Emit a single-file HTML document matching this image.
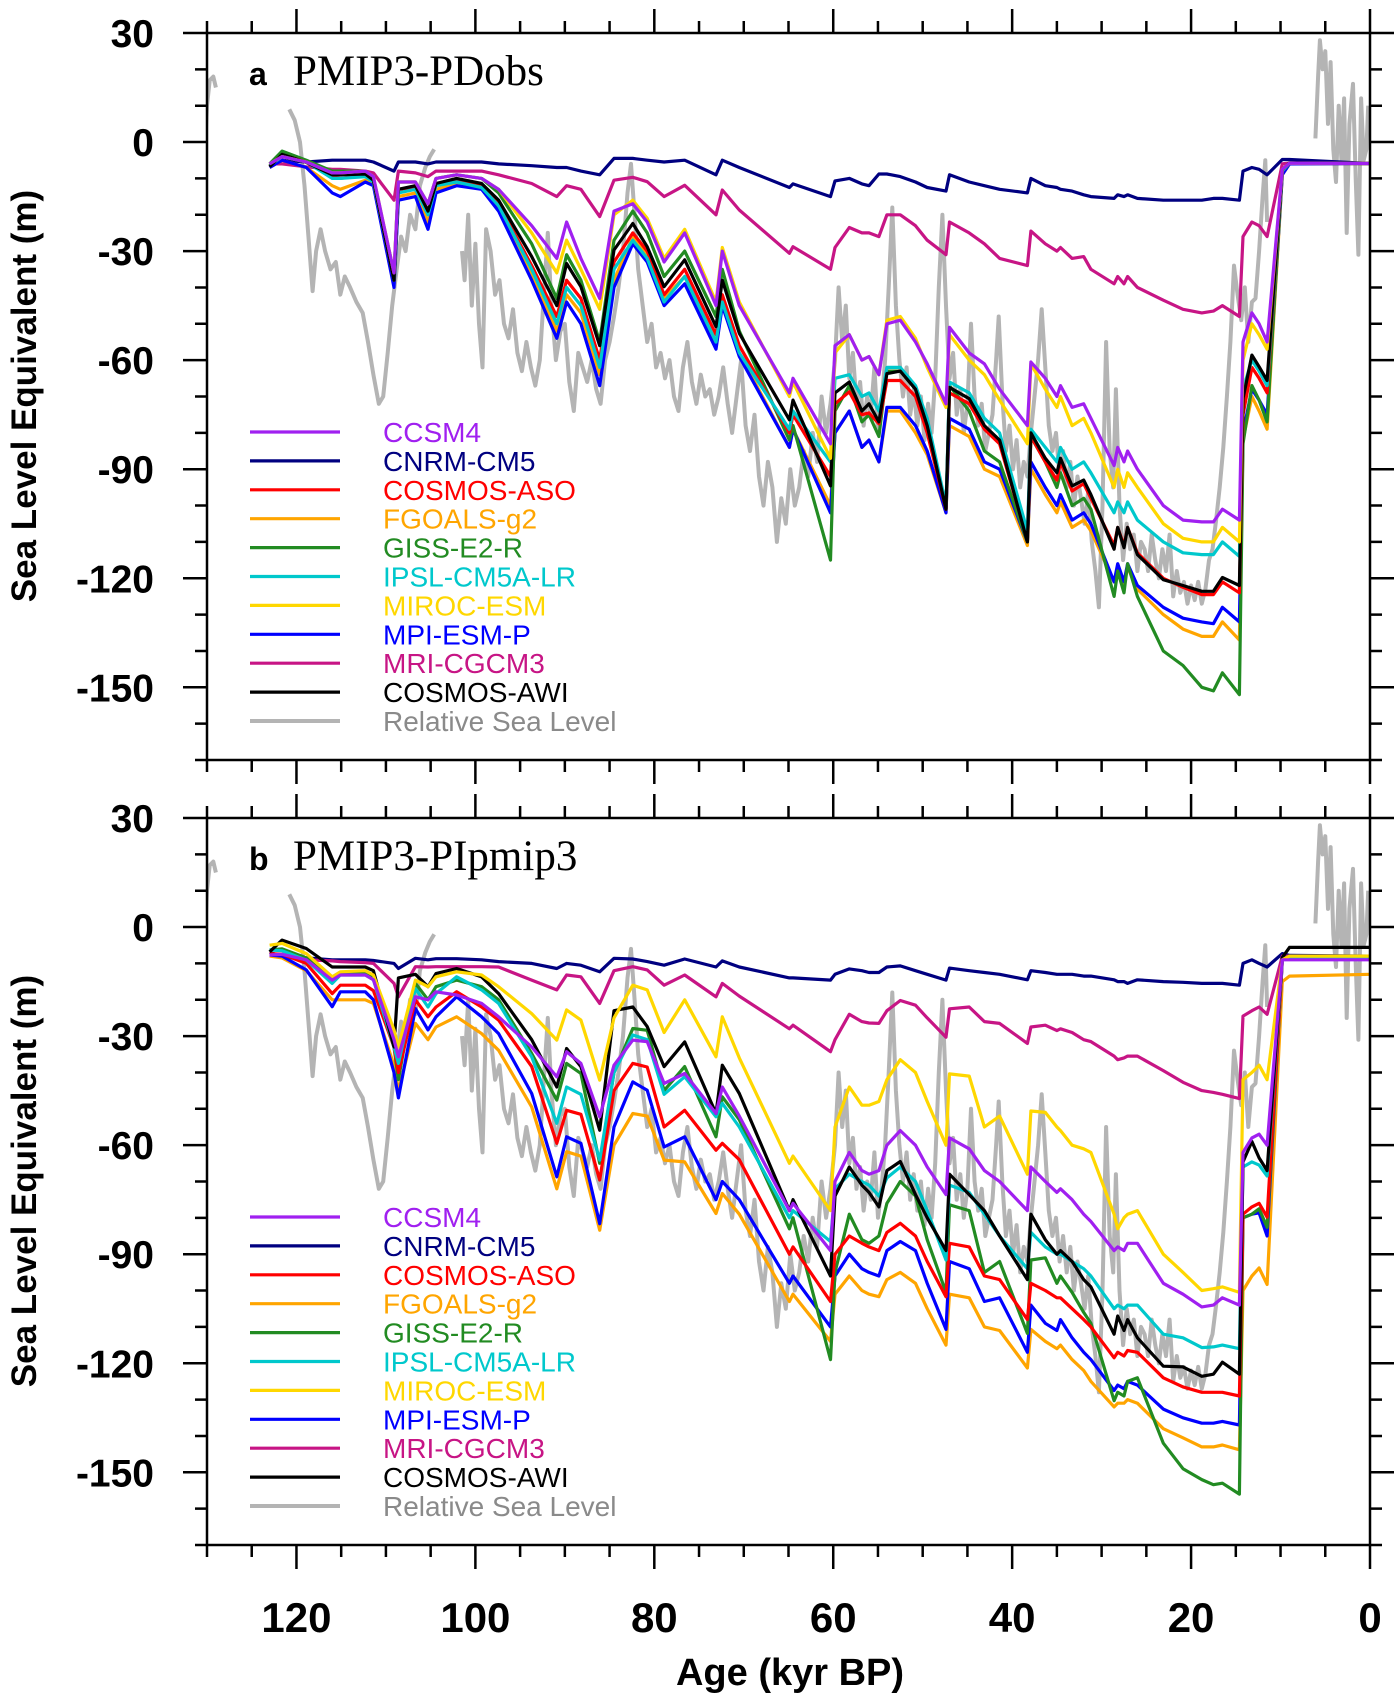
<!DOCTYPE html>
<html><head><meta charset="utf-8">
<style>
html,body{margin:0;padding:0;background:#fff;}
svg{display:block;}
</style></head>
<body>
<svg id="chart" width="1400" height="1699" viewBox="0 0 1400 1699" xmlns="http://www.w3.org/2000/svg">
  <defs>
    <clipPath id="clipA"><rect x="207" y="33" width="1163" height="727"/></clipPath>
    <clipPath id="clipB"><rect x="207" y="818" width="1163" height="727"/></clipPath>
  </defs>
  <g id="panelA"></g>
  <g id="panelB"></g>
  <text x="249" y="85" font-family="Liberation Sans, sans-serif" font-weight="bold" font-size="32">a</text>
  <text x="293" y="85" font-family="Liberation Serif, serif" font-size="43">PMIP3-PDobs</text>
  <text x="249" y="870" font-family="Liberation Sans, sans-serif" font-weight="bold" font-size="32">b</text>
  <text x="293" y="870" font-family="Liberation Serif, serif" font-size="43">PMIP3-PIpmip3</text>
  <text transform="translate(36,396) rotate(-90)" text-anchor="middle" font-family="Liberation Sans, sans-serif" font-weight="bold" font-size="35">Sea Level Equivalent (m)</text>
  <text transform="translate(36,1181) rotate(-90)" text-anchor="middle" font-family="Liberation Sans, sans-serif" font-weight="bold" font-size="35">Sea Level Equivalent (m)</text>
  <text x="790" y="1685" text-anchor="middle" font-family="Liberation Sans, sans-serif" font-weight="bold" font-size="38">Age (kyr BP)</text>
</svg>
<script>
// ---- data ----
const ages = [123,121.6,118.9,116,115.1,112.3,111.4,109.1,108.6,106.7,105.3,104.4,102.1,99.3,97.4,93.7,90.9,89.8,88.2,86.1,84.5,82.4,80.8,78.9,76.6,73.1,72.4,70.5,64.9,64.5,
 60.3,59.8,58.2,56.8,56,54.9,54,52.5,50.8,49.5,47.4,47,44.8,43.1,41.4,38.3,37.9,36.3,35,34.6,33.3,32,31.2,28.6,28.2,27.5,27.1,26,23.1,20.9,18.8,17.5,16.5,14.6,14.2,13.2,12.4,11.5,9.8,9,0];

const seriesNames = ["CCSM4","CNRM-CM5","COSMOS-ASO","FGOALS-g2","GISS-E2-R","IPSL-CM5A-LR","MIROC-ESM","MPI-ESM-P","MRI-CGCM3","COSMOS-AWI","Relative Sea Level"];

// Panel a values
const aCCSM4 = [-6,-4,-5.5,-8.5,-8.5,-8,-9.5,-36,-11,-11,-17,-10,-9,-10,-13,-23,-32,-22,-32,-43,-19,-17,-22,-33,-25,-45,-30,-45,-69,-65,
 -83,-56,-53,-60,-59,-64,-50,-49,-55,-61,-72,-51,-58,-61,-68,-78,-60.5,-65,-70,-67,-73,-72,-76,-89,-84,-88,-85,-90,-100,-104,-104.5,-104.5,-101,-104,-55,-47,-50,-55,-7.5,-5.8,-5.9];
const aCNRM = [-6,-5,-5.5,-5,-5,-5,-5.5,-8,-5.5,-5.5,-6,-5.5,-5.5,-5.5,-6,-6.5,-7,-7,-8,-9,-4.5,-4.5,-5,-5.5,-5,-9,-5,-7,-12.5,-11.5,
 -15,-10.7,-10,-11.5,-12,-8.8,-8.8,-9.5,-11,-12.5,-13.5,-9,-11,-12,-13,-14,-10,-12,-12.5,-13,-13.5,-14.5,-15,-15.5,-14.5,-15,-14.5,-15.5,-16,-16,-16,-15.5,-15.5,-16,-8,-7,-7.5,-9,-4.8,-4.8,-5.9];
const aASO = [-6.5,-3.5,-5.5,-9.5,-10,-9,-11,-38,-13,-12.5,-19,-11.5,-10.5,-12,-17,-34,-48,-38,-43,-60,-33,-25,-30,-42,-35,-53,-42,-56,-80,-75,
 -92,-72,-68.7,-75,-74.5,-77.5,-65.6,-65.6,-70,-80,-101,-69,-72,-79,-83,-109.6,-81,-88,-93,-88,-96,-94,-98,-111,-106,-111,-106,-113,-120,-122.5,-124.5,-124.5,-121,-124,-75,-62,-65,-69,-8,-5.8,-5.9];
const aFGOALS = [-7,-5,-7,-12,-13,-10.5,-11.5,-39,-15,-14,-22,-13,-11.5,-12.5,-18,-36,-52,-42,-47,-64,-38,-26,-31,-43,-37,-56,-44,-58,-84,-79,
 -100,-80,-74,-84,-82,-88,-74,-74,-80,-86,-102,-78,-81,-90,-92,-111,-90,-97,-102,-99,-106,-104,-107,-121,-117,-122,-117,-123,-130,-134,-136,-136,-132,-137,-82,-70,-74,-79,-9,-6,-5.9];
const aGISS = [-6,-2.5,-5,-8,-8,-8,-10,-36,-11,-11,-17,-10,-9,-10,-14,-28,-43,-31,-38,-55,-27,-19,-25,-37,-30,-48,-35,-52,-82,-78,
 -115,-74,-67,-77,-75,-81,-63,-63,-68,-79,-101,-67,-74,-85,-88,-110,-81,-88,-95,-91,-100,-98,-101,-125,-118,-124,-116,-125,-140,-144,-150,-151,-146,-152,-83,-67,-71,-77,-8,-5.8,-5.9];
const aIPSL = [-6.5,-4,-5.5,-10,-10,-9.5,-11,-38,-14,-13,-20,-12,-11,-12.5,-17.5,-35,-50,-40,-45,-62,-35,-27,-32,-44,-37,-55,-44,-58,-79,-74,
 -88,-65,-64,-70,-69,-74,-62,-62,-67,-76,-100,-66,-69,-76,-80,-107,-79,-84,-88,-84,-90,-88,-91,-102,-99,-102,-99,-104,-110,-113,-113.5,-113.5,-110,-114,-68,-60,-63,-67,-8,-5.8,-5.9];
const aMIROC = [-6,-4,-5.5,-8.5,-8.5,-8,-9.5,-36,-11,-11,-17,-10,-9,-10,-13,-25,-36,-27,-35,-46,-20,-16,-21,-32,-24,-44,-29,-44,-70,-66,
 -87,-58,-53,-60,-59,-64,-49,-48,-54,-62,-73,-53,-60,-64,-71,-83,-61,-68,-73,-70,-78,-76,-80,-95,-90,-95,-91,-95,-105,-109,-110,-110,-106,-110,-60,-50,-53,-57,-7.5,-5.8,-5.9];
const aMPI = [-7,-5,-7,-14,-15,-11,-12,-40,-16,-15,-24,-14,-12,-13,-19,-38,-54,-44,-50,-67,-40,-28,-33,-45,-39,-57,-45,-59,-84,-79,
 -102,-80,-74,-84,-82,-88,-73,-73,-78,-85,-102,-76,-79,-88,-90,-110,-88,-95,-100,-97,-104,-102,-105,-121,-116,-121,-116,-122,-128,-131,-132,-132.5,-128,-132,-80,-68,-71,-75,-9,-6,-5.9];
const aMRI = [-6,-6,-6.8,-7.5,-7.5,-8,-8.5,-16,-8,-8.5,-9.5,-8,-8,-8,-9,-11.4,-15,-12,-13,-20.5,-10.5,-9.7,-10.9,-15,-11.9,-20,-13.2,-18.7,-30.6,-28.8,
 -35,-29,-23.5,-25,-25,-26,-20,-20,-23,-27,-31,-22,-25,-28,-32,-34,-24.5,-28,-30,-29,-32,-31.5,-35,-39,-37,-39,-37,-40,-43.5,-46,-47,-46.5,-45,-48,-26,-22,-23,-26,-6,-5.8,-5.9];
const aAWI = [-6.8,-3.4,-5.6,-9,-9,-8.8,-10.5,-38,-13,-12,-19,-11.4,-10,-11.4,-16,-31.5,-45,-33.4,-39.8,-56,-29.7,-22.4,-28.8,-39.8,-32.4,-50.8,-38,-52.6,-76.4,-71,
 -94.6,-69,-66,-74,-72,-77,-63.7,-63,-68,-78,-101,-67.5,-70.6,-78,-82,-110,-80,-87,-91,-87,-94.6,-93,-97,-112,-106,-111.6,-106,-113.5,-120.4,-122,-123.6,-123.6,-119.8,-122,-70.6,-58.6,-61.8,-65.6,-7.6,-5.7,-5.9];

// Panel b values
const bCCSM4 = [-7.7,-7.5,-9,-14.6,-13.2,-13.2,-14.5,-31,-35.7,-19.2,-20,-17.8,-18.7,-21,-24.7,-33,-41.2,-34.3,-37.5,-52.2,-38,-31.1,-31.5,-43,-40.3,-51.3,-44,-52,-78,-76,
 -89,-70,-62,-67,-68,-67,-60,-56,-60,-66,-73.6,-58,-61,-67,-70,-78,-66,-70,-73,-72,-75,-79,-81,-89,-88,-89,-87,-87,-98,-101,-104.5,-104,-102,-104,-62,-58,-57,-60,-9,-9,-9];
const bCNRM = [-7,-8,-8.5,-9,-9,-9,-9.2,-10,-11.4,-8.6,-9,-8.7,-8.7,-9,-9.5,-10,-11.4,-10,-10.5,-12.3,-8.6,-8.8,-9.5,-10.5,-8.8,-11,-9.3,-11,-14,-14,
 -14.6,-13,-11.5,-12,-12.5,-12.5,-11,-10.7,-12,-13,-14.6,-11.3,-12,-12.5,-13,-14.5,-12,-12.5,-13,-13,-13,-13.5,-13.5,-14.5,-15,-15,-15.5,-14.5,-15,-15.2,-15.5,-15.5,-15.5,-16,-10,-9,-10,-11,-7.3,-7.8,-8];
const bASO = [-7.3,-7.5,-10,-18.3,-16,-16,-17.5,-33,-40,-20,-24.7,-22,-17.8,-22,-25.6,-38.4,-59.5,-50.4,-51.5,-69.6,-45,-37.5,-38.5,-55,-50.4,-61.4,-59.5,-64,-90,-88,
 -103,-90,-85,-87,-88,-89,-84,-81.5,-85,-92,-101.7,-87,-88,-96,-97,-108,-98,-100,-102,-102,-105,-108,-110,-118.5,-117,-118,-116.5,-117,-124,-126.5,-128,-128,-128,-129,-79,-77,-76,-79.8,-9,-8.5,-8.5];
const bFGOALS = [-8,-8.5,-12,-20,-20,-20,-21,-38,-45,-26.5,-31,-27.5,-24.7,-29.3,-33.9,-49.5,-72,-61.8,-63,-83.4,-60,-51.3,-52,-64.1,-64.6,-78.8,-73.3,-79,-103,-101,
 -114,-101,-96,-100,-101,-101.7,-97,-95,-98,-105,-115,-101,-102,-110,-111,-121.3,-110.7,-114,-116,-115,-119,-122,-125,-132,-131,-131,-130,-131,-138,-140.5,-143,-143,-142.5,-143.8,-100,-96,-93.8,-98.3,-15,-13.5,-13];
const bGISS = [-6.3,-6,-8.5,-14.6,-12.8,-12.8,-14,-33,-42,-15.5,-20,-16.4,-14.6,-16.4,-20,-34.8,-47.6,-37.5,-40.3,-65,-40,-27.9,-28.4,-45,-38.4,-57.7,-46.7,-53,-83,-80,
 -119,-95,-79,-86,-87,-85,-76,-70,-74,-86,-100.5,-76.4,-78,-95,-92,-111.8,-91.6,-91,-98,-96,-100.5,-106,-109,-130.3,-128,-129,-125,-124,-142,-149,-152,-153.4,-153,-156,-80,-79,-77.5,-82.6,-9,-8.5,-8.5];
const bIPSL = [-6.3,-6.5,-9.1,-15.5,-13.2,-13.2,-14.5,-33,-37.5,-16.9,-22,-18.3,-13.7,-17.3,-21,-35.7,-54,-44,-46,-64.1,-40,-29.7,-31,-46,-41.2,-52.2,-48.5,-55,-80,-78,
 -86.5,-72,-68,-70,-71,-74,-69,-66,-70,-78,-91.6,-71,-73,-79,-85,-94,-84,-88,-90,-90,-92,-94,-96,-105,-104,-105,-104,-104,-112,-113,-115.7,-115.5,-115,-116,-66,-64.6,-65.5,-68.5,-9,-8.5,-8.5];
const bMIROC = [-5,-4.5,-7.3,-13.7,-12.3,-12,-13.2,-28.3,-33,-14.6,-16.4,-13.7,-12.3,-13.2,-16.4,-23.8,-31.1,-22.8,-25.6,-42.1,-25,-16,-17.3,-29,-20,-35.7,-24.7,-36,-65,-63,
 -78,-55,-44,-49,-49,-48,-42,-36.5,-40,-48,-60,-40.4,-41,-55,-52,-68,-50.6,-51,-55,-56,-60,-61,-62,-79,-83,-80,-79,-78,-90,-95,-100,-99.5,-99,-100.5,-42,-40,-38,-42,-9,-8,-8];
const bMPI = [-7.7,-8,-11.8,-21.9,-17.8,-17.8,-20,-40,-47,-22.4,-28.3,-24.7,-19.2,-24.7,-29.3,-45.8,-68.7,-57.7,-59.5,-81.6,-55,-42.6,-44.9,-60.5,-57.7,-75,-70,-75,-98,-96,
 -110,-96,-90,-94,-95,-96,-89,-86.5,-89,-98,-110.7,-92,-94,-103,-102,-117,-104,-109,-111,-108,-113,-117,-119,-127.5,-126,-127,-125,-126,-132.6,-135,-136.5,-136.5,-136,-137,-80,-79,-78.6,-85,-9,-8.5,-8.5];
const bMRI = [-7.7,-8,-9,-9.3,-9.5,-9.8,-10,-15.5,-19.2,-10.9,-11,-10.9,-10.9,-10.9,-11,-14.6,-17.3,-13.2,-13.7,-21,-12,-10.9,-11.8,-16,-13.2,-19.2,-15.5,-19,-28,-27,
 -34.3,-31,-24,-26,-26.4,-26.5,-23,-20.2,-21.5,-25,-30.3,-22.5,-22,-26,-26.5,-32,-27.5,-27,-28.5,-28,-29,-31,-31.5,-35.5,-36.5,-36,-35.5,-35.5,-39.5,-42.7,-45,-45.5,-46,-47.2,-24.5,-23,-22,-24,-8,-8,-8];
const bAWI = [-6.8,-3.6,-5.9,-11,-11,-11,-12,-33,-14,-13,-16.4,-12.8,-11.4,-13.7,-18.3,-31,-44,-33.4,-38.4,-55.9,-23,-22,-27.4,-38.4,-31.6,-51.3,-38,-45.8,-78,-75,
 -96,-74,-66,-71,-73,-77,-67,-64.5,-73.6,-80,-89,-68,-73.6,-78,-85,-97,-79,-86,-90,-89,-92,-97,-99,-112,-107,-111,-108,-113,-120.8,-121,-123.6,-123,-119.7,-123,-64.6,-59,-63.5,-67,-8.4,-5.6,-5.6];

// Relative sea level record (null = gap)
const rslAge = [130.2,130,129.7,129.3,129,null,
 120.8,120.2,119.6,119.1,118.6,118.2,117.8,117.3,116.8,116.2,115.6,115.1,114.6,114,113.3,112.6,112,111.4,110.8,110.3,109.8,109.3,108.8,108.3,107.8,107.3,106.7,106.2,105.6,105.1,104.6,null,
 101.5,101.2,100.8,100.4,100,99.6,99.2,98.8,98.3,97.8,97.3,96.8,96.3,95.8,95.3,94.8,94.3,93.8,93.3,92.8,92.3,91.9,91.5,91,90.5,90,89.5,89,88.5,88,87.5,87,86.5,86,85.5,85,84.5,84,83.5,83,82.6,82.2,81.8,81.3,80.8,80.3,79.8,79.3,78.8,78.3,77.8,77.3,76.8,76.3,75.8,75.3,74.8,74.3,73.8,73.3,72.8,72.3,71.8,71.3,70.8,70.3,69.8,69.3,68.8,68.3,67.8,67.3,66.8,66.3,65.8,65.3,64.8,64.3,63.8,63.3,62.8,62.3,61.8,61.3,60.8,60.3,59.8,59.4,59,58.6,58.2,57.8,57.4,57,56.6,56.2,55.8,55.4,55,54.6,54.2,53.8,53.4,53,52.6,52.2,51.8,51.4,51,50.6,50.2,49.8,49.4,49,48.6,48.2,47.8,47.4,47,46.6,46.2,45.8,45.4,45,44.6,44.2,43.8,43.4,43,42.6,42.2,41.8,41.5,41.1,40.7,40.3,39.9,39.5,39.1,38.7,38.3,37.9,37.5,37.1,36.7,36.3,35.9,35.5,35.1,34.7,34.3,33.9,33.5,33.1,32.7,32.3,31.9,31.5,31.1,30.7,30.3,29.9,29.5,29.1,28.7,28.4,28,27.6,27.2,26.8,26.4,26,25.6,25.2,24.8,24.4,24,23.6,23.2,22.8,22.4,22,21.6,21.2,20.8,20.4,20,19.6,19.2,18.8,18.4,18,17.6,17.2,16.8,16.4,16,15.6,15.2,14.8,14.4,14,13.6,13.2,12.8,12.4,12,11.7,11.5,null,
 6.1,5.8,5.6,5.3,5,4.7,4.4,4.1,3.8,3.5,3.2,2.9,2.6,2.3,1.9,1.6,1.3,1.0,0.7,0.4,0.2];
const rslVal = [-1,10,17,18,15,null,
 9,6,0,-12,-28,-41,-30,-24,-30,-35,-33,-42,-37,-40,-44,-47,-55,-64,-72,-70,-58,-45,-35,-26,-30,-20,-24,-12,-7,-4,-2,null,
 -30,-38,-20,-45,-28,-50,-62,-24,-30,-42,-38,-50,-54,-46,-58,-63,-55,-62,-67,-60,-40,-25,-45,-60,-52,-50,-66,-74,-58,-62,-66,-60,-68,-72,-60,-55,-48,-40,-30,-14,-6,-20,-35,-45,-55,-50,-62,-58,-65,-60,-70,-74,-62,-55,-66,-72,-64,-70,-68,-75,-70,-62,-72,-80,-70,-60,-78,-85,-75,-92,-100,-88,-95,-110,-98,-105,-90,-100,-95,-85,-92,-80,-88,-70,-80,-72,-60,-40,-55,-45,-65,-58,-72,-66,-78,-70,-75,-62,-80,-72,-60,-40,-18,-45,-60,-70,-62,-75,-68,-78,-70,-82,-72,-80,-65,-40,-20,-45,-65,-58,-75,-68,-80,-72,-50,-70,-78,-72,-85,-80,-75,-60,-48,-70,-85,-78,-90,-82,-95,-88,-92,-80,-70,-60,-46,-62,-78,-85,-80,-92,-85,-95,-88,-100,-92,-98,-105,-96,-110,-118,-128,-100,-55,-85,-95,-68,-100,-115,-105,-112,-108,-118,-110,-112,-118,-108,-115,-120,-112,-118,-108,-125,-118,-124,-121,-127,-122,-126,-121,-127,-123,-115,-112,-104,-95,-84,-70,-55,-34,-42,-49,-40,-55,-44,-43,-30,-15,-5,-22,null,
 1,18,28,20,25,5,22,-2,-11,10,-5,12,-25,5,16,-10,-31,12,-5,-2,10];

// ---- drawing ----
const NS = "http://www.w3.org/2000/svg";
const X0 = 207, X1 = 1370, AGE_MAX = 130;
function xs(age){ return X0 + (AGE_MAX - age) * (X1 - X0) / AGE_MAX; }
function makeY(top){ return function(v){ return top + (30 - v) * 727 / 200; }; }

const colors = ["#a020f0","#000080","#ff0000","#ffa500","#228b22","#00c8cc","#ffd700","#0000ff","#c71585","#000000","#b4b4b4"];
const slugs = ["ccsm4","cnrm-cm5","cosmos-aso","fgoals-g2","giss-e2-r","ipsl-cm5a-lr","miroc-esm","mpi-esm-p","mri-cgcm3","cosmos-awi","relative-sea-level"];
const panelAData = [aCCSM4,aCNRM,aASO,aFGOALS,aGISS,aIPSL,aMIROC,aMPI,aMRI,aAWI];
const panelBData = [bCCSM4,bCNRM,bASO,bFGOALS,bGISS,bIPSL,bMIROC,bMPI,bMRI,bAWI];
const drawOrder = [1,8,3,7,4,2,5,9,6,0];

function pathFrom(xArr, yArr, yf){
  let d = "", pen = false;
  const n = Math.min(xArr.length, yArr.length);
  for (let i = 0; i < n; i++){
    if (xArr[i] === null || yArr[i] === null){ pen = false; continue; }
    d += (pen ? "L" : "M") + xs(xArr[i]).toFixed(1) + " " + yf(yArr[i]).toFixed(1) + " ";
    pen = true;
  }
  return d;
}

function buildPanel(gId, top, clipId, data, letter){
  const g = document.getElementById(gId);
  const yf = makeY(top);
  const bottom = top + 727;
  const plot = document.createElementNS(NS, "g");
  plot.setAttribute("clip-path", "url(#" + clipId + ")");
  
  
  g.appendChild(plot);
  const rp = document.createElementNS(NS, "path");
  rp.setAttribute("d", pathFrom(rslAge, rslVal, yf));
  rp.setAttribute("fill", "none");
  rp.setAttribute("stroke", colors[10]);
  rp.setAttribute("stroke-width", "4");
  rp.setAttribute("stroke-linejoin", "round");
  
  
  plot.appendChild(rp);
  drawOrder.forEach(function(k){
    const p = document.createElementNS(NS, "path");
    p.setAttribute("d", pathFrom(ages, data[k], yf));
    p.setAttribute("fill", "none");
    p.setAttribute("stroke", colors[k]);
    p.setAttribute("stroke-width", "3.2");
    p.setAttribute("stroke-linejoin", "round");
    
    
    plot.appendChild(p);
  });
  const fr = document.createElementNS(NS, "rect");
  fr.setAttribute("x", X0); fr.setAttribute("y", top);
  fr.setAttribute("width", X1 - X0); fr.setAttribute("height", 727);
  fr.setAttribute("fill", "none"); fr.setAttribute("stroke", "#000"); fr.setAttribute("stroke-width", "2.5");
  
  
  g.appendChild(fr);
  let td = "";
  for (let a = 0; a <= 130; a += 5){
    const x = xs(a), len = (a % 20 === 0) ? 24 : 12;
    td += "M" + x + " " + top + "V" + (top - len) + "M" + x + " " + bottom + "V" + (bottom + len);
  }
  for (let v = -170; v <= 30; v += 10){
    const y = yf(v), len = (v % 30 === 0) ? 24 : 12;
    td += "M" + X0 + " " + y + "H" + (X0 - len) + "M" + X1 + " " + y + "H" + (X1 + len);
  }
  const tp = document.createElementNS(NS, "path");
  tp.setAttribute("d", td); tp.setAttribute("stroke", "#000"); tp.setAttribute("stroke-width", "2.5");
  
  
  g.appendChild(tp);
  for (let v = -150; v <= 30; v += 30){
    const t = document.createElementNS(NS, "text");
    t.setAttribute("x", 154); t.setAttribute("y", yf(v) + 14);
    t.setAttribute("text-anchor", "end");
    t.setAttribute("font-family", "Liberation Sans, sans-serif");
    t.setAttribute("font-weight", "bold"); t.setAttribute("font-size", "39");
    t.textContent = String(v);
    
    
    g.appendChild(t);
  }
  const lg = document.createElementNS(NS, "g");
  
  
  g.appendChild(lg);
  const ly0 = top + 399;
  seriesNames.forEach(function(nm, i){
    const y = ly0 + i * 28.9;
    const ln = document.createElementNS(NS, "line");
    ln.setAttribute("x1", 250); ln.setAttribute("x2", 340);
    ln.setAttribute("y1", y); ln.setAttribute("y2", y);
    ln.setAttribute("stroke", colors[i]); ln.setAttribute("stroke-width", i === 10 ? "4" : "3.2");
    
    
    lg.appendChild(ln);
    const tx = document.createElementNS(NS, "text");
    tx.setAttribute("x", 383); tx.setAttribute("y", y + 10);
    tx.setAttribute("font-family", "Liberation Sans, sans-serif");
    tx.setAttribute("font-size", "28");
    tx.setAttribute("fill", i === 10 ? "#8a8a8a" : colors[i]);
    tx.textContent = nm;
    
    
    lg.appendChild(tx);
  });
}

buildPanel("panelA", 33, "clipA", panelAData, "a");
buildPanel("panelB", 818, "clipB", panelBData, "b");

const xTickLabels = [120,100,80,60,40,20,0];
const svg = document.getElementById("chart");
xTickLabels.forEach(function(a){
  const t = document.createElementNS(NS, "text");
  t.setAttribute("x", xs(a)); t.setAttribute("y", 1632);
  t.setAttribute("text-anchor", "middle");
  t.setAttribute("font-family", "Liberation Sans, sans-serif");
  t.setAttribute("font-weight", "bold"); t.setAttribute("font-size", "42");
  t.textContent = String(a);
  
  
  svg.appendChild(t);
});
</script>
</body></html>
